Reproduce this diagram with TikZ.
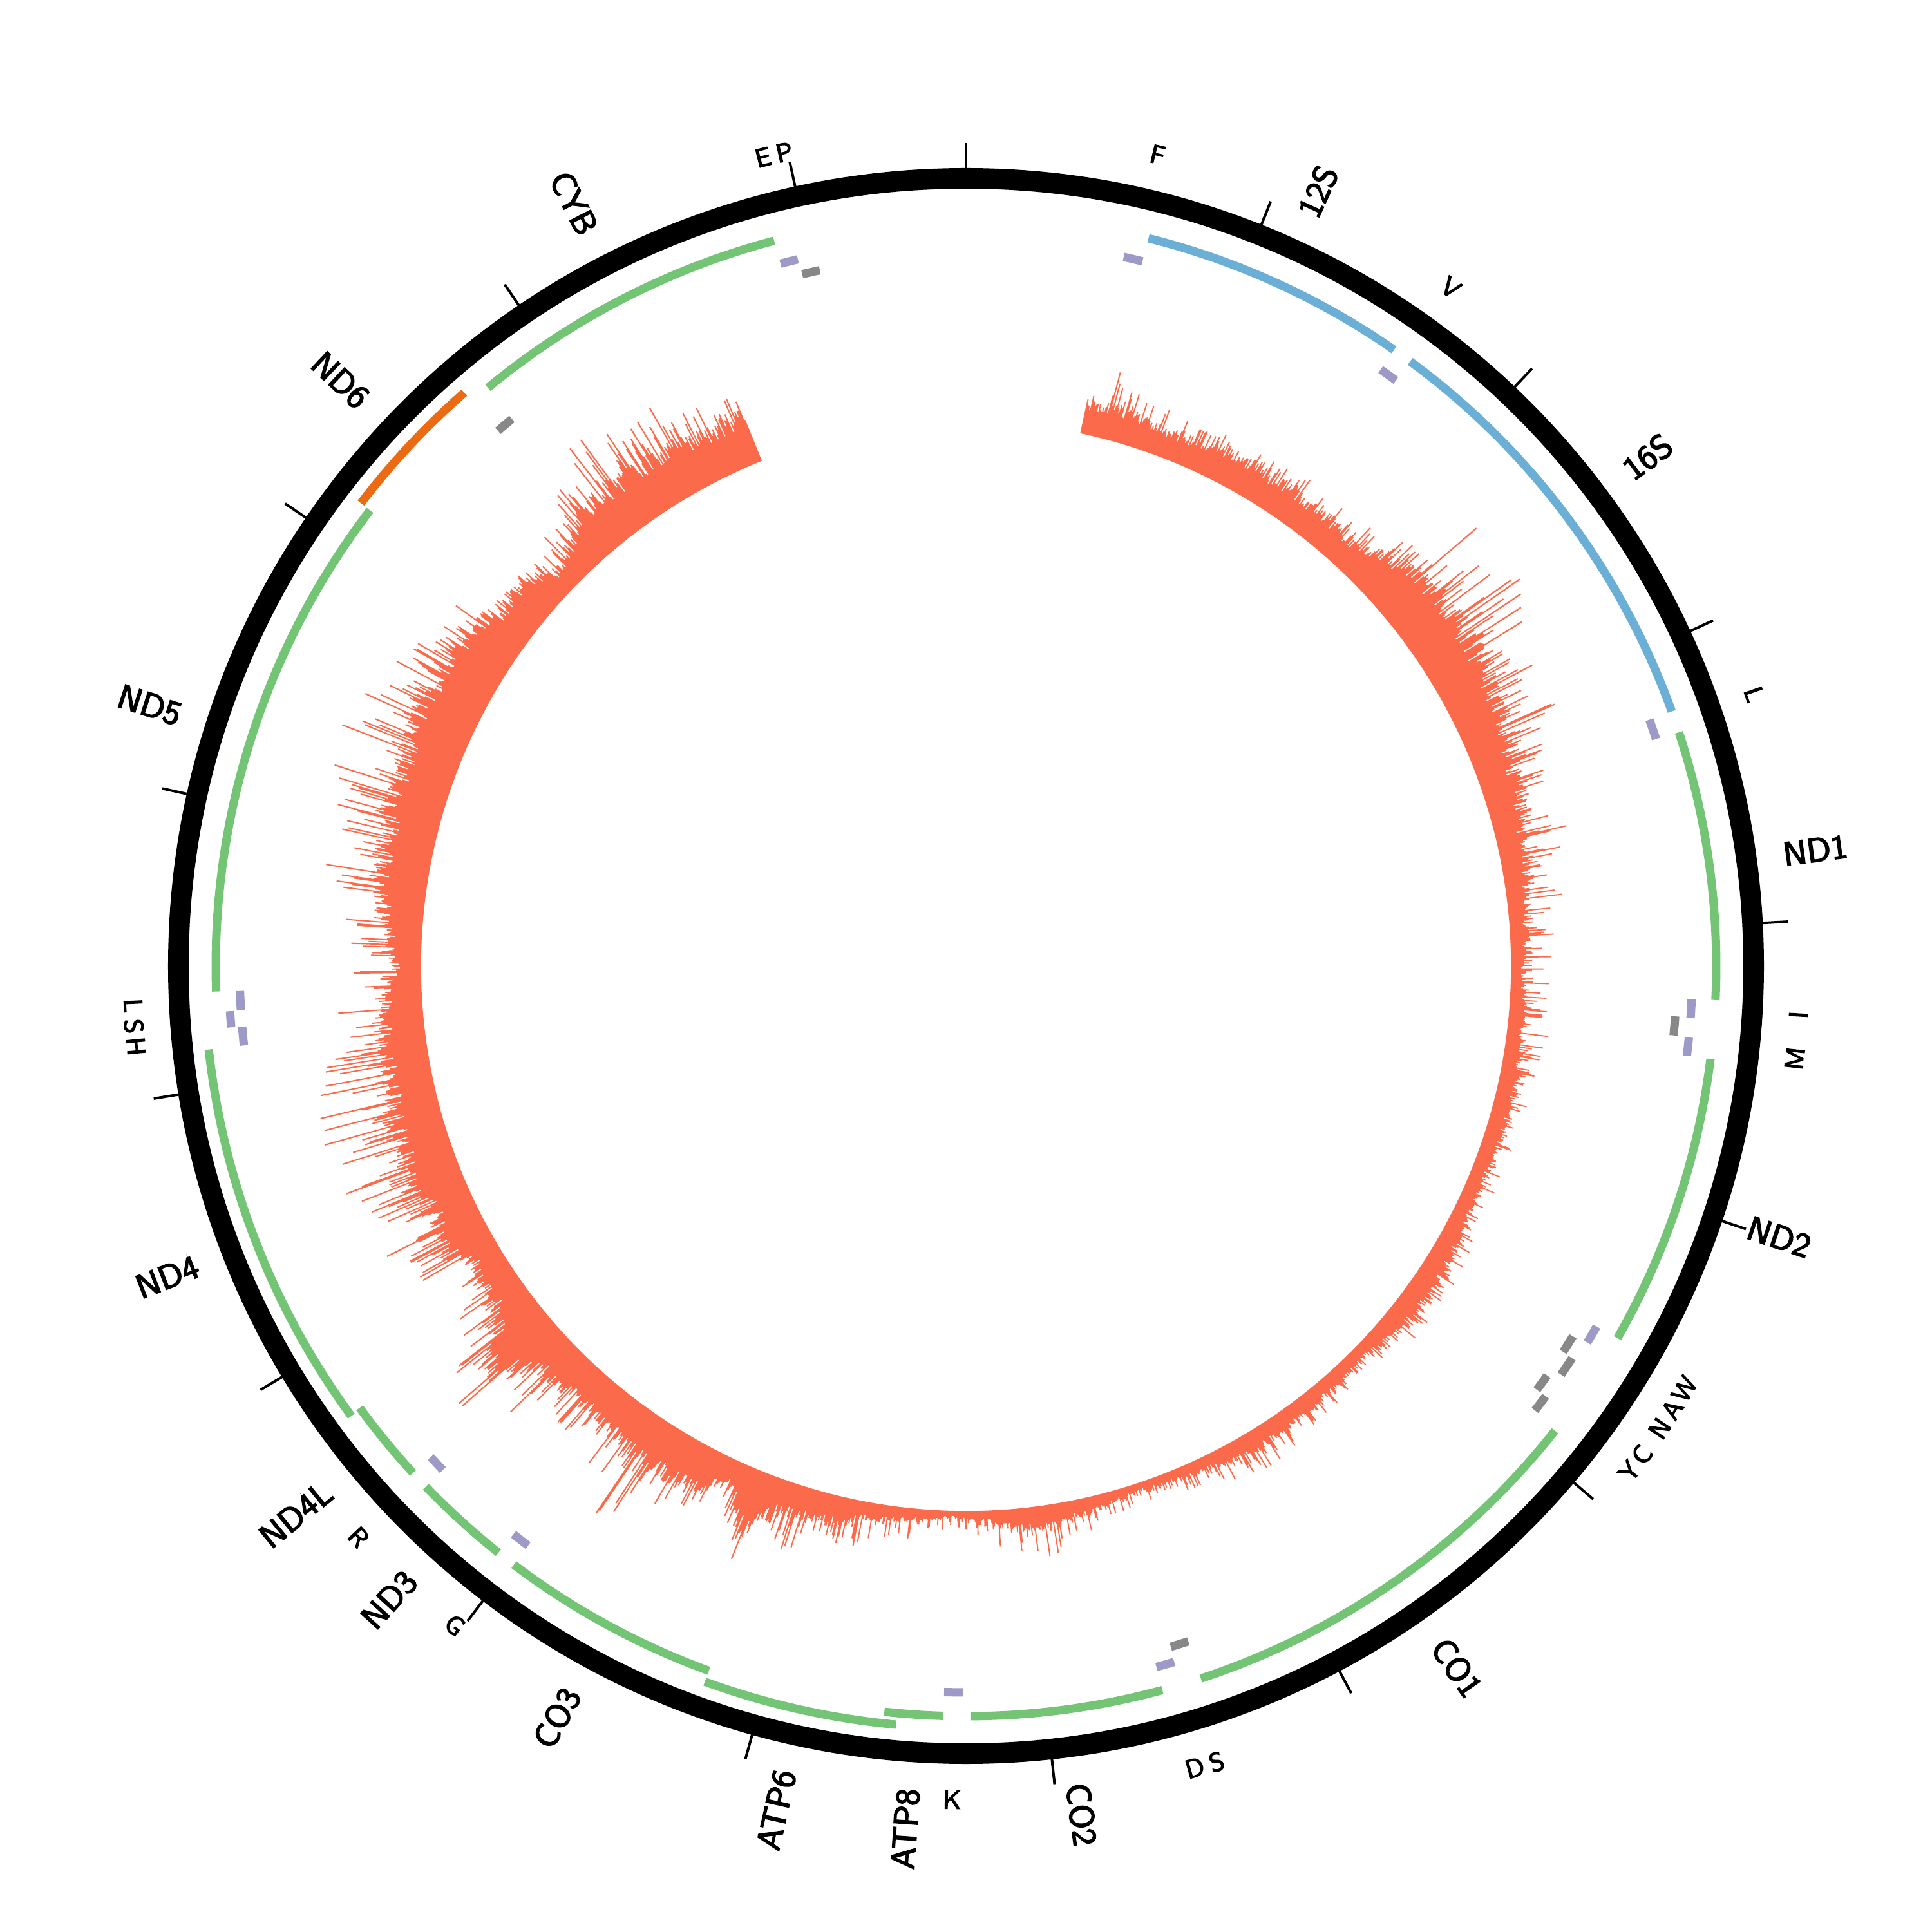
\documentclass[tikz,border=0pt]{standalone}
\usepackage{fontspec}
\usepackage{tikz}
\newfontfamily\labfont{lmsans10-regular.otf}[FakeBold=3.5]
\definecolor{cdsgreen}{HTML}{74C476}
\definecolor{rrnablue}{HTML}{6BAED6}
\definecolor{trnapurple}{HTML}{9E9AC8}
\definecolor{trnagrey}{HTML}{888888}
\definecolor{nadorange}{HTML}{EC6A12}
\definecolor{covred}{HTML}{FB6A4A}

% positions are in bp of a 16569 bp genome; bp/46.025 = degrees clockwise from the top
\newcommand{\feat}[4]{\draw[#1] ({90-#3/46.025}:#2) arc[start angle={90-#3/46.025}, end angle={90-#4/46.025}, radius=#2];}
% radial gene label: name, centre (bp), text
\newcommand{\glab}[3]{%
  \pgfmathsetmacro\la{#2/46.025}%
  \pgfmathtruncatemacro\lside{\la<180}%
  \ifnum\lside=1
    \node[genelab,anchor=west,rotate=90-\la] (#1) at ({90-\la}:12.8) {#3};
  \else
    \node[genelab,anchor=east,rotate=270-\la] (#1) at ({90-\la}:12.8) {#3};
  \fi}
% tangential tRNA label: name, centre (bp), text
\newcommand{\tlab}[3]{%
  \pgfmathsetmacro\la{#2/46.025}%
  \pgfmathtruncatemacro\lside{(\la>90)&&(\la<270)}%
  \ifnum\lside=1
    \node[trnalab,anchor=north,rotate=180-\la] (#1) at ({90-\la}:12.8) {#3};
  \else
    \node[trnalab,anchor=south,rotate=-\la] (#1) at ({90-\la}:12.8) {#3};
  \fi}

\begin{document}
\begin{tikzpicture}[
    gene/.style={line width=1.3mm},
    cds/.style={gene,draw=cdsgreen},
    rrna/.style={gene,draw=rrnablue},
    nad/.style={gene,draw=nadorange},
    trna/.style={gene,draw=trnapurple},
    trnam/.style={gene,draw=trnagrey},
    tickmark/.style={line width=0.4mm,black},
    genelab/.style={font=\labfont\fontsize{14.8}{16}\selectfont,inner sep=0pt},
    trnalab/.style={font=\labfont\fontsize{11.5}{13}\selectfont,inner sep=0pt}
  ]
  \useasboundingbox (-15,-15) rectangle (15,15);

  % coverage: bulk height and spike height (px of 3000) at each angle
  \pgfmathsetseed{4}
  \fill[covred] ({90-12.1}:8.46)
    \foreach \ta/\ba/\sa/\tb/\bb/\sb [evaluate=\ta as \n using {int((\tb-\ta)/0.12)}] in {
      12.1/45/60/15/50/110, 15/50/110/21/40/70, 21/40/70/27/50/75, 27/50/75/35/50/75,
      35/50/75/43/45/85, 43/45/85/48/80/170, 48/80/170/51/90/220, 51/90/220/55/90/240,
      55/90/240/60/85/190, 60/85/190/65/75/160, 65/75/160/69/62/145, 69/62/145/74/50/120,
      74/50/120/78/40/105, 78/40/105/85/28/80, 85/28/80/90/20/60, 90/20/60/96/25/65,
      96/25/65/105/30/50, 105/30/50/115/25/45, 115/25/45/122/35/60, 122/35/60/128/40/65,
      128/40/65/135/20/35, 135/20/35/142/25/50, 142/25/50/149/30/75, 149/30/75/156/18/40,
      156/18/40/162/12/30, 162/12/30/168/25/60, 168/25/60/174/35/100, 174/35/100/178/15/40,
      178/15/40/182/10/30, 182/10/30/186/20/50, 186/20/50/190/25/60, 190/25/60/194/43/100,
      194/43/100/199/45/120, 199/45/120/202/100/150, 202/100/150/204.5/30/60, 204.5/30/60/207/60/100,
      207/60/100/210/75/110, 210/75/110/214/70/210, 214/70/210/217/65/120, 217/65/120/222/55/135,
      222/55/135/227/70/160, 227/70/160/230/120/220, 230/120/220/233/60/120, 233/60/120/239/45/100,
      239/45/100/241/75/235, 241/75/235/245/65/140, 245/65/140/250/80/185, 250/80/185/257/70/225,
      257/70/225/262/65/160, 262/65/160/266/65/155, 266/65/155/270/40/110, 270/40/110/274/60/150,
      274/60/150/278/75/190, 278/75/190/284/80/170, 284/80/170/290/85/205, 290/85/205/293/95/200,
      293/95/200/297/95/170, 297/95/170/302/95/140, 302/95/140/307/65/110, 307/65/110/311/65/100,
      311/65/100/314/35/70, 314/35/70/317/50/110, 317/50/110/319/75/150, 319/75/150/323/80/210,
      323/80/210/327/80/150, 327/80/150/331/75/140, 331/75/140/335/75/130, 335/75/130/338/75/125}
    { \foreach \k [evaluate=\k as \h using {0.01*((\ba+(\bb-\ba)*\k/\n)*(0.75+0.4*rnd)+((\sa-\ba)+((\sb-\bb)-(\sa-\ba))*\k/\n)*pow(rnd,5))}] in {1,...,\n} {
        -- ({90-\ta-(\tb-\ta)*(\k-1)/\n}:{8.46+\h}) -- ({90-\ta-(\tb-\ta)*\k/\n}:{8.46+\h}) } }
    -- ({90-338}:8.46) arc[start angle=90-338, end angle=90-12.1, radius=8.46] -- cycle;

  % genes, two lanes
  \feat{rrna}{11.65}{648}{1601}
  \feat{rrna}{11.65}{1671}{3229}
  \feat{cds}{11.65}{3307}{4262}
  \feat{cds}{11.65}{4470}{5511}
  \feat{cds}{11.65}{5904}{7445}
  \feat{cds}{11.65}{7586}{8269}
  \feat{cds}{11.65}{8366}{8572}
  \feat{cds}{11.83}{8527}{9207}
  \feat{cds}{11.65}{9207}{9990}
  \feat{cds}{11.65}{10059}{10404}
  \feat{cds}{11.65}{10470}{10766}
  \feat{cds}{11.83}{10760}{12137}
  \feat{cds}{11.65}{12337}{14148}
  \feat{nad}{11.83}{14149}{14673}
  \feat{cds}{11.65}{14747}{15887}

  % tRNAs
  \foreach \s/\e in {577/647, 1602/1670, 3230/3304, 4263/4331, 4402/4469, 5512/5579,
      7518/7585, 8295/8364, 9991/10058, 10405/10469, 12138/12206, 12266/12336, 15888/15953}
    {\feat{trna}{11.28}{\s}{\e}}
  \feat{trna}{11.45}{12207}{12265}
  \foreach \s/\e in {4329/4400, 5587/5655, 5761/5826, 7446/7514, 14674/14742, 15956/16023}
    {\feat{trnam}{11.04}{\s}{\e}}
  \feat{trnam}{11.21}{5657}{5729}
  \feat{trnam}{11.21}{5826}{5891}

  % genome ring and 1 kb ticks
  \draw[line width=3.2mm] (0,0) circle[radius=12.23];
  \foreach \k in {0,...,16}
    \draw[tickmark] ({90-\k*21.7273}:12.38) -- ({90-\k*21.7273}:12.78);

  \glab{l12S}{1124.5}{12S}
  \glab{l16S}{2450}{16S}
  \glab{lND1}{3784.5}{ND1}
  \glab{lND2}{4990.5}{ND2}
  \glab{lCO1}{6674.5}{CO1}
  \glab{lCO2}{7927.5}{CO2}
  \glab{lATP8}{8469}{ATP8}
  \glab{lATP6}{8867}{ATP6}
  \glab{lCO3}{9598.5}{CO3}
  \glab{lND3}{10231.5}{ND3}
  \glab{lND4L}{10618}{ND4L}
  \glab{lND4}{11448.5}{ND4}
  \glab{lND5}{13242.5}{ND5}
  \glab{lND6}{14411}{ND6}
  \glab{lCYB}{15317}{CYB}

  \tlab{lF}{612}{F}
  \tlab{lV}{1636}{V}
  \tlab{lL1}{3267}{L}
  \tlab{lI}{4297}{I}
  \tlab{lM}{4435.5}{M}
  \tlab{lW}{5545.5}{W}
  \tlab{lA}{5621}{A}
  \tlab{lN}{5693}{N}
  \tlab{lC}{5793.5}{C}
  \tlab{lY}{5858.5}{Y}
  \tlab{lS1}{7480}{S}
  \tlab{lD}{7551.5}{D}
  \tlab{lK}{8329.5}{K}
  \tlab{lG}{10024.5}{G}
  \tlab{lR}{10437}{R}
  \tlab{lH}{12172}{H}
  \tlab{lS2}{12236}{S}
  \tlab{lL2}{12301}{L}
  \tlab{lE}{15920.5}{E}
  \tlab{lP}{15989.5}{P}
\end{tikzpicture}
\end{document}
